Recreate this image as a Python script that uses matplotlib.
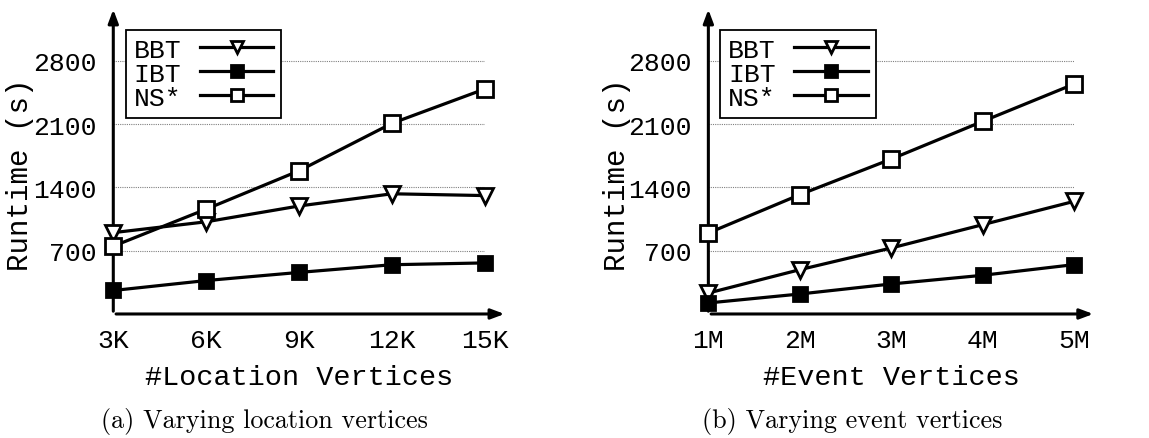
import matplotlib
matplotlib.use("Agg")
import matplotlib.pyplot as plt

# panel (a): varying location vertices
loc_labels = ["3K", "6K", "9K", "12K", "15K"]
loc_bbt = [900, 1020, 1195, 1330, 1310]
loc_ibt = [260, 370, 460, 545, 565]
loc_ns = [750, 1160, 1585, 2110, 2490]

# panel (b): varying event vertices
evt_labels = ["1M", "2M", "3M", "4M", "5M"]
evt_bbt = [232, 490, 730, 988, 1246]
evt_ibt = [122, 221, 332, 428, 546]
evt_ns = [896, 1320, 1714, 2131, 2544]

series_names = ["BBT", "IBT", "NS*"]
yticks = [700, 1400, 2100, 2800]

MONO = "Liberation Mono"


def draw_panel(ax, labels, bbt, ibt, ns, xlabel, caption, cap_x):
    xs = list(range(len(labels)))
    styles = [
        dict(marker="v", mfc="white", ms=11),
        dict(marker="s", mfc="black", ms=10),
        dict(marker="s", mfc="white", ms=11),
    ]
    for name, vals, st in zip(series_names, [bbt, ibt, ns], styles):
        ax.plot(xs, vals, color="black", lw=2.3, mec="black", mew=2,
                clip_on=False, zorder=5, label=name, **st)

    ax.set_xlim(0, len(labels) - 1)
    ax.set_ylim(0, 3400)
    for s in ax.spines.values():
        s.set_visible(False)
    for y in yticks:
        ax.plot([0, len(labels) - 1], [y, y], color="gray", lw=0.8,
                ls=(0, (1, 1)), zorder=1)

    # axis arrows
    ax.annotate("", xy=(1.06, 0), xytext=(0, 0), xycoords="axes fraction",
                arrowprops=dict(arrowstyle="-|>,head_length=0.8,head_width=0.3",
                                color="black", lw=2.2), annotation_clip=False)
    ax.annotate("", xy=(0, 1.0), xytext=(0, 0), xycoords="axes fraction",
                arrowprops=dict(arrowstyle="-|>,head_length=0.8,head_width=0.3",
                                color="black", lw=2.2), annotation_clip=False)

    ax.set_xticks(xs)
    ax.set_xticklabels(labels, fontfamily=MONO, fontsize=19)
    ax.set_yticks(yticks)
    ax.set_yticklabels([str(v) for v in yticks], fontfamily=MONO, fontsize=19)
    ax.tick_params(axis="both", length=0)
    ax.tick_params(axis="y", pad=12)
    ax.tick_params(axis="x", pad=10)

    ax.set_xlabel(xlabel, fontfamily=MONO, fontsize=20.5)
    ax.xaxis.set_label_coords(0.5, -0.163)
    ax.set_ylabel("Runtime (s)", fontfamily=MONO, fontsize=21)
    ax.yaxis.set_label_coords(-0.212, 0.455)

    leg = ax.legend(loc="upper left", bbox_to_anchor=(0.033, 0.925),
                    prop={"family": MONO, "size": 19}, markerfirst=False,
                    frameon=True, fancybox=False, framealpha=1,
                    edgecolor="black", handlelength=2.8, labelspacing=0.0,
                    borderpad=0.3, borderaxespad=0, handletextpad=0.7,
                    markerscale=0.85)
    leg.get_frame().set_linewidth(1.3)
    leg.set_zorder(10)

    ax.figure.text(cap_x, 0.04, caption, fontfamily="cmr10", fontsize=18.8,
                   ha="center", va="center")


fig = plt.figure(figsize=(11.49, 4.39), dpi=100)
ax1 = fig.add_axes([0.0986, 0.2825, 0.3235, 0.700])
ax2 = fig.add_axes([0.6165, 0.2825, 0.3183, 0.700])

draw_panel(ax1, loc_labels, loc_bbt, loc_ibt, loc_ns,
           "#Location Vertices", "(a) Varying location vertices", 0.2305)
draw_panel(ax2, evt_labels, evt_bbt, evt_ibt, evt_ns,
           "#Event Vertices", "(b) Varying event vertices", 0.7415)

fig.savefig("out.png", dpi=100)
